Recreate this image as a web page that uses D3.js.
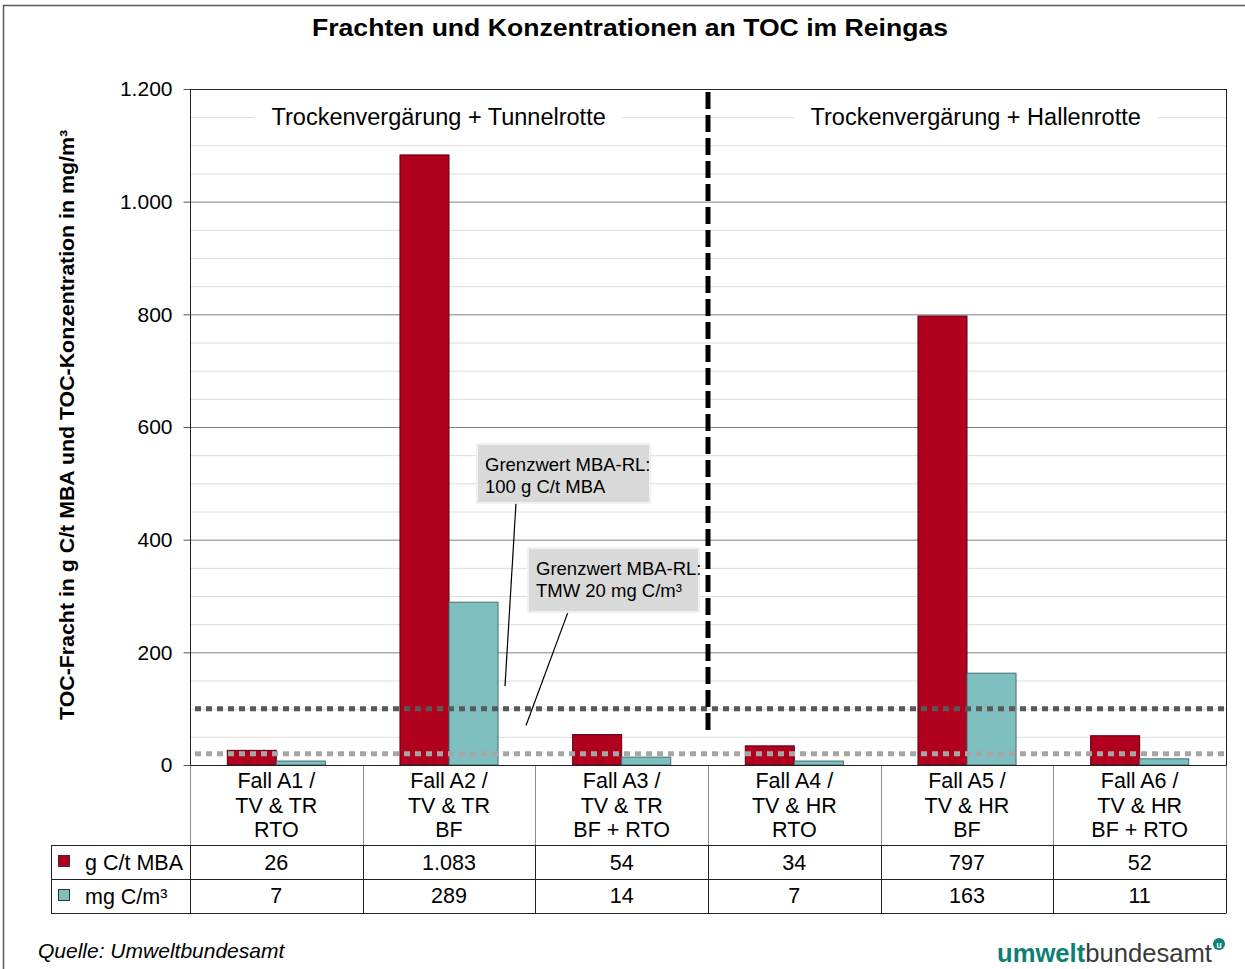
<!DOCTYPE html>
<html>
<head>
<meta charset="utf-8">
<script src="https://cdn.jsdelivr.net/npm/d3@7"></script>
<style>
body { margin: 0; background: #fff; }
text { font-family: "Liberation Sans", Arial, sans-serif; }
</style>
</head>
<body>
<script>
var width = 1245;
var height = 969;

// data
var categories = ["A1", "A2", "A3", "A4", "A5", "A6"];
var catLabels = [
  ["Fall A1 /", "TV & TR", "RTO"],
  ["Fall A2 /", "TV & TR", "BF"],
  ["Fall A3 /", "TV & TR", "BF + RTO"],
  ["Fall A4 /", "TV & HR", "RTO"],
  ["Fall A5 /", "TV & HR", "BF"],
  ["Fall A6 /", "TV & HR", "BF + RTO"]
];
var seriesNames = ["g C/t MBA", "mg C/m³"];
var fracht = [26, 1083, 54, 34, 797, 52];
var konz = [7, 289, 14, 7, 163, 11];
var seriesColors = ["#b2001f", "#80bfbf"];
var yTicks = [0, 200, 400, 600, 800, 1000, 1200];
var limits = [100, 20];
var sections = ["Trockenvergärung + Tunnelrotte", "Trockenvergärung + Hallenrotte"];

var fmt = function(v) { return d3.format(",")(v).replace(/,/g, "."); };

var pLeft = 190, pRight = 1226, pTop = 89, pBottom = 765;

var svg = d3.select("body")
            .append("svg")
            .attr("width", width)
            .attr("height", height);

// outer frame
svg.append("rect")
   .attr("x", 3.5).attr("y", 5.5)
   .attr("width", 1260).attr("height", 1000)
   .attr("fill", "none")
   .attr("stroke", "#595959")
   .attr("stroke-width", 1.5);

var y = d3.scaleLinear().domain([0, 1200]).range([pBottom, pTop]);
var x = d3.scaleBand().domain(categories).range([pLeft, pRight]);
var xs = d3.scaleBand().domain(seriesNames)
           .range([x.bandwidth() * 0.216, x.bandwidth() * 0.784]);

// title
svg.append("text")
   .attr("x", 630).attr("y", 36)
   .attr("text-anchor", "middle")
   .attr("font-size", "24px")
   .attr("font-weight", "bold")
   .attr("textLength", 636)
   .attr("lengthAdjust", "spacingAndGlyphs")
   .text("Frachten und Konzentrationen an TOC im Reingas");

// gridlines
var minor = d3.range(50, 1201, 50).filter(function(v) { return v % 200 != 0; });
svg.append("g").selectAll("line")
   .data(minor).enter().append("line")
   .attr("x1", pLeft).attr("x2", pRight)
   .attr("y1", function(d) { return y(d) + 0.5; })
   .attr("y2", function(d) { return y(d) + 0.5; })
   .attr("stroke", "#dcdcdc");
svg.append("g").selectAll("line")
   .data(yTicks.slice(1)).enter().append("line")
   .attr("x1", pLeft).attr("x2", pRight)
   .attr("y1", function(d) { return y(d) + 0.5; })
   .attr("y2", function(d) { return y(d) + 0.5; })
   .attr("stroke", "#808080");

// y axis
var yAxis = d3.axisLeft(y).tickValues(yTicks).tickFormat(fmt).tickSize(7).tickPadding(11);
var ya = svg.append("g").attr("transform", "translate(" + (pLeft + 0.5) + ",0)").call(yAxis);
ya.select(".domain").remove();
ya.selectAll(".tick line").attr("stroke", "#555");
ya.selectAll(".tick text")
  .attr("font-family", "Liberation Sans, Arial, sans-serif")
  .attr("font-size", "21px")
  .attr("fill", "#000");

svg.append("text")
   .attr("transform", "translate(74,425) rotate(-90)")
   .attr("text-anchor", "middle")
   .attr("font-size", "20px")
   .attr("font-weight", "bold")
   .attr("textLength", 590)
   .attr("lengthAdjust", "spacingAndGlyphs")
   .text("TOC-Fracht in g C/t MBA und TOC-Konzentration in mg/m³");

// section labels
var secCenters = [x("A2") + x.bandwidth() * 0.44, x("A5") + x.bandwidth() * 0.55];
sections.forEach(function(s, i) {
  var g = svg.append("g");
  var bg = g.append("rect").attr("fill", "#fff");
  var t = g.append("text")
     .attr("x", secCenters[i]).attr("y", y(1150) + 8)
     .attr("text-anchor", "middle")
     .attr("font-size", "23.5px")
     .text(s);
  var bb = t.node().getBBox();
  bg.attr("x", bb.x - 17).attr("y", bb.y)
    .attr("width", bb.width + 34).attr("height", bb.height);
});

// bars
var rows = [fracht, konz];
var barData = [];
categories.forEach(function(c, i) {
  seriesNames.forEach(function(s, j) {
    barData.push({ cat: c, s: s, v: rows[j][i], j: j });
  });
});
svg.append("g").selectAll("rect")
   .data(barData).enter().append("rect")
   .attr("x", function(d) { return x(d.cat) + xs(d.s); })
   .attr("y", function(d) { return y(d.v); })
   .attr("width", xs.bandwidth())
   .attr("height", function(d) { return pBottom - y(d.v); })
   .attr("fill", function(d) { return seriesColors[d.j]; })
   .attr("stroke", function(d) { return d.j == 0 ? "#5a0010" : "#3f6f6f"; })
   .attr("stroke-width", 1);

// limit lines
svg.append("g").selectAll("line")
   .data(limits).enter().append("line")
   .attr("x1", pLeft + 5).attr("x2", pRight - 2)
   .attr("y1", function(d) { return y(d); })
   .attr("y2", function(d) { return y(d); })
   .attr("stroke", function(d, i) { return i == 0 ? "#595959" : "#a6a6a6"; })
   .attr("stroke-width", 5)
   .attr("stroke-dasharray", "6,5");

// separator
svg.append("line")
   .attr("x1", x("A4")).attr("x2", x("A4"))
   .attr("y1", pTop + 3).attr("y2", y(55))
   .attr("stroke", "#000")
   .attr("stroke-width", 5)
   .attr("stroke-dasharray", "17,6");

// plot frame
svg.append("rect")
   .attr("x", pLeft + 0.5).attr("y", pTop + 0.5)
   .attr("width", pRight - pLeft).attr("height", pBottom - pTop)
   .attr("fill", "none")
   .attr("stroke", "#222")
   .attr("stroke-width", 1);

// annotations
var notes = [
  { x: 477, y: y(570), w: 173, h: 59, lines: ["Grenzwert MBA-RL:", "100 g C/t MBA"], lx: 516, ex: 505, ey: y(140) },
  { x: 528, y: y(385), w: 171, h: 64, lines: ["Grenzwert MBA-RL:", "TMW 20 mg C/m³"], lx: 568, ex: 526, ey: y(70) }
];
notes.forEach(function(n) {
  svg.append("line")
     .attr("x1", n.lx).attr("y1", n.y + n.h)
     .attr("x2", n.ex).attr("y2", n.ey)
     .attr("stroke", "#000").attr("stroke-width", 1.2);
  svg.append("rect")
     .attr("x", n.x).attr("y", n.y)
     .attr("width", n.w).attr("height", n.h)
     .attr("fill", "#d9d9d9")
     .attr("stroke", "#f0f0f0").attr("stroke-width", 2);
  n.lines.forEach(function(l, k) {
    svg.append("text")
       .attr("x", n.x + 8).attr("y", n.y + 27 + k * 22)
       .attr("font-size", "18.5px")
       .text(l);
  });
});

// data table
var tbl = svg.append("g");
var r0 = pBottom, r1 = 845, r2 = 879, r3 = 913, lcol = 51;
categories.forEach(function(c, i) {
  var cx = x(c) + x.bandwidth() / 2;
  catLabels[i].forEach(function(l, k) {
    tbl.append("text")
       .attr("x", cx).attr("y", 788 + k * 24.5)
       .attr("text-anchor", "middle")
       .attr("font-size", "21.5px")
       .text(l);
  });
  rows.forEach(function(r, j) {
    tbl.append("text")
       .attr("x", cx).attr("y", 870 + j * 33)
       .attr("text-anchor", "middle")
       .attr("font-size", "21.5px")
       .text(fmt(r[i]));
  });
});
// vertical lines
var vx = categories.map(function(c) { return x(c); }).concat([pRight]);
tbl.append("g").selectAll("line")
   .data(vx).enter().append("line")
   .attr("x1", function(d) { return Math.round(d) + 0.5; })
   .attr("x2", function(d) { return Math.round(d) + 0.5; })
   .attr("y1", r0).attr("y2", r1)
   .attr("stroke", "#8c8c8c");
tbl.append("g").selectAll("line")
   .data([lcol].concat(vx)).enter().append("line")
   .attr("x1", function(d) { return Math.round(d) + 0.5; })
   .attr("x2", function(d) { return Math.round(d) + 0.5; })
   .attr("y1", r1).attr("y2", r3)
   .attr("stroke", "#222");
tbl.append("line")
   .attr("x1", pLeft).attr("x2", pRight + 0.5)
   .attr("y1", r0 + 0.5).attr("y2", r0 + 0.5)
   .attr("stroke", "#222");
[r1, r2, r3].forEach(function(ry) {
  tbl.append("line")
     .attr("x1", lcol).attr("x2", pRight + 0.5)
     .attr("y1", ry + 0.5).attr("y2", ry + 0.5)
     .attr("stroke", "#222");
});
// legend keys
seriesNames.forEach(function(s, j) {
  var ry = j == 0 ? r1 : r2;
  tbl.append("rect")
     .attr("x", 58.5).attr("y", ry + 10.5)
     .attr("width", 11).attr("height", 11)
     .attr("fill", seriesColors[j])
     .attr("stroke", "#333");
  tbl.append("text")
     .attr("x", 85).attr("y", ry + 25)
     .attr("font-size", "21.5px")
     .text(s);
});

// footer
svg.append("text")
   .attr("x", 38).attr("y", 958)
   .attr("font-size", "21px")
   .attr("font-style", "italic")
   .text("Quelle: Umweltbundesamt");

var logo = svg.append("text")
   .attr("x", 997).attr("y", 962)
   .attr("font-family", "Lato, 'Open Sans', sans-serif")
   .attr("font-size", "25px")
   .attr("textLength", 215)
   .attr("lengthAdjust", "spacingAndGlyphs");
logo.append("tspan").attr("fill", "#0e7f74").attr("font-weight", "bold").text("umwelt");
logo.append("tspan").attr("fill", "#3a3a3a").text("bundesamt");
svg.append("circle")
   .attr("cx", 1219).attr("cy", 944).attr("r", 6)
   .attr("fill", "#0e7f74");
svg.append("text")
   .attr("x", 1219).attr("y", 947.5)
   .attr("text-anchor", "middle")
   .attr("font-size", "9px")
   .attr("font-weight", "bold")
   .attr("fill", "#fff")
   .text("u");
</script>
</body>
</html>
